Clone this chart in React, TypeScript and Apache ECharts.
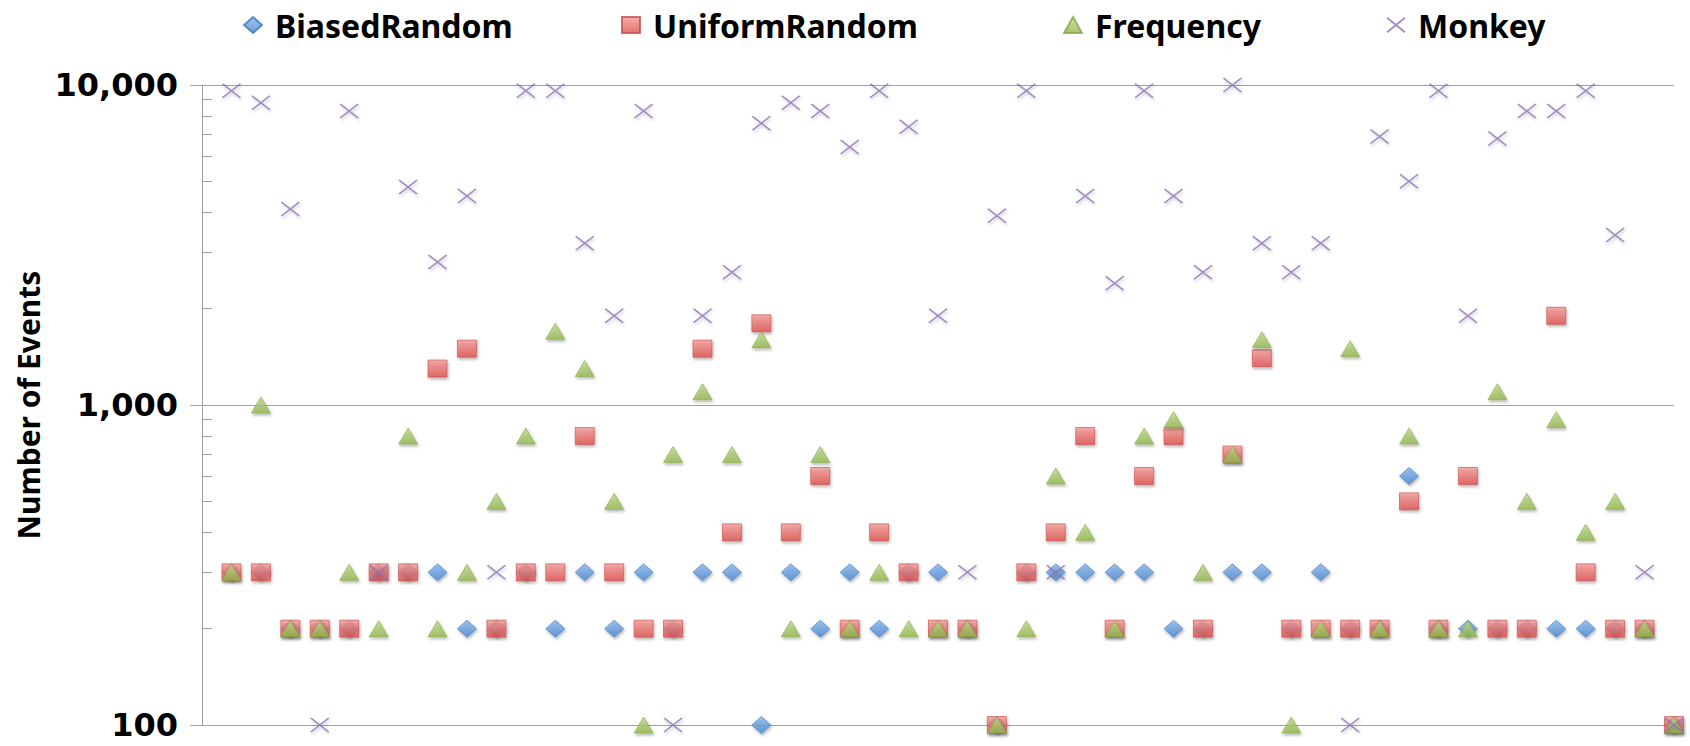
import React, { useEffect, useRef } from 'react';
import * as echarts from 'echarts';

// x positions of the 50 test subjects
const runs = [
  1, 2, 3, 4, 5, 6, 7, 8, 9, 10, 11, 12, 13, 14, 15, 16, 17, 18, 19, 20, 21, 22, 23, 24, 25,
  26, 27, 28, 29, 30, 31, 32, 33, 34, 35, 36, 37, 38, 39, 40, 41, 42, 43, 44, 45, 46, 47, 48, 49, 50,
];

const biasedRandom = [
  300, 300, 200, 200, 200, 300, 300, 300, 200, 200,
  300, 200, 300, 200, 300, 200, 300, 300, 100, 300,
  200, 300, 200, 300, 300, 200, 100, 300, 300, 300,
  300, 300, 200, 200, 300, 300, 200, 300, 200, 200,
  600, 200, 200, 200, 200, 200, 200, 200, 200, 100,
];

const uniformRandom = [
  300, 300, 200, 200, 200, 300, 300, 1300, 1500, 200,
  300, 300, 800, 300, 200, 200, 1500, 400, 1800, 400,
  600, 200, 400, 300, 200, 200, 100, 300, 400, 800,
  200, 600, 800, 200, 700, 1400, 200, 200, 200, 200,
  500, 200, 600, 200, 200, 1900, 300, 200, 200, 100,
];

const frequency = [
  300, 1000, 200, 200, 300, 200, 800, 200, 300, 500,
  800, 1700, 1300, 500, 100, 700, 1100, 700, 1600, 200,
  700, 200, 300, 200, 200, 200, 100, 200, 600, 400,
  200, 800, 900, 300, 700, 1600, 100, 200, 1500, 200,
  800, 200, 200, 1100, 500, 900, 400, 500, 200, 100,
];

const monkey = [
  9600, 8800, 4100, 100, 8300, 300, 4800, 2800, 4500, 300,
  9600, 9600, 3200, 1900, 8300, 100, 1900, 2600, 7600, 8800,
  8300, 6400, 9600, 7400, 1900, 300, 3900, 9600, 300, 4500,
  2400, 9600, 4500, 2600, 10000, 3200, 2600, 3200, 100, 6900,
  5000, 9600, 1900, 6800, 8300, 8300, 9600, 3400, 300, 100,
];

const seriesNames = ['BiasedRandom', 'UniformRandom', 'Frequency', 'Monkey'];
const yTickValues = [100, 1000, 10000];
const minorTickValues = [200, 300, 400, 500, 600, 700, 800, 900, 2000, 3000, 4000, 5000, 6000, 7000, 8000, 9000];

const pairs = (vals: number[]) => runs.map((r, i) => [r, vals[i]]);

const shadow = {
  shadowBlur: 3,
  shadowOffsetX: 1,
  shadowOffsetY: 2,
  shadowColor: 'rgba(0,0,0,0.35)',
};

const grad = (top: string, bottom: string) =>
  new echarts.graphic.LinearGradient(0, 0, 0, 1, [
    { offset: 0, color: top },
    { offset: 1, color: bottom },
  ]);

export default function App() {
  const ref = useRef<HTMLDivElement>(null);

  useEffect(() => {
    document.body.style.margin = '0';
    if (!ref.current) return;
    const chart = echarts.init(ref.current, undefined, { renderer: 'svg' });

    const legendText = {
      fontFamily: 'Noto Sans',
      fontWeight: 'bold' as const,
      fontSize: 32,
      color: '#000',
      padding: [0, 0, 0, 8],
    };
    const legendLefts = [238, 616, 1058, 1381];

    chart.setOption({
      animation: false,
      backgroundColor: '#fff',
      legend: seriesNames.map((n, i) => ({
        data: [n],
        left: legendLefts[i],
        top: 4,
        itemWidth: 18,
        itemHeight: 16,
        textStyle: legendText,
      })),
      grid: { left: 202, right: 16, top: 85, bottom: 21, containLabel: false },
      xAxis: {
        type: 'value',
        min: 0,
        max: 50,
        axisLine: { show: true, lineStyle: { color: '#a0a0a0', width: 1 } },
        axisTick: { show: false },
        axisLabel: { show: false },
        splitLine: { show: false },
      },
      yAxis: [
        {
          type: 'log',
          logBase: 10,
          min: 100,
          max: 10000,
          name: 'Number of Events',
          nameLocation: 'middle',
          nameGap: 156,
          nameTextStyle: {
            fontFamily: 'Noto Sans',
            fontWeight: 'bold',
            fontSize: 30,
            color: '#000',
          },
          axisLine: { show: true, lineStyle: { color: '#a0a0a0', width: 1 } },
          axisTick: { show: true, length: 12, lineStyle: { color: '#a0a0a0' } },
          axisLabel: {
            margin: 24,
            fontFamily: 'DejaVu Sans',
            fontWeight: 'bold',
            fontSize: 32,
            color: '#000',
            formatter: (v: number) => (yTickValues.includes(Math.round(v)) ? Math.round(v).toLocaleString('en-US') : ''),
          },
          splitLine: { show: true, lineStyle: { color: '#a0a0a0', width: 1 } },
        },
        {
          type: 'value',
          min: 2,
          max: 4,
          position: 'left',
          axisLine: { show: false },
          axisLabel: { show: false },
          splitLine: { show: false },
          axisTick: {
            show: true,
            inside: true,
            length: 10,
            customValues: minorTickValues.map((v) => Math.log10(v)),
            lineStyle: { color: '#a0a0a0' },
          },
        },
      ],
      series: [
        {
          name: 'BiasedRandom',
          type: 'scatter',
          data: pairs(biasedRandom),
          symbol: 'diamond',
          symbolSize: [19, 17],
          itemStyle: {
            color: grad('#86b6ec', '#4a88d2'),
            borderColor: '#3f78bd',
            borderWidth: 0.8,
            ...shadow,
          },
        },
        {
          name: 'UniformRandom',
          type: 'scatter',
          data: pairs(uniformRandom),
          symbol: 'rect',
          symbolSize: [19, 17],
          itemStyle: {
            color: grad('#f39a97', '#de4f4b'),
            borderColor: '#c4504d',
            borderWidth: 0.8,
            ...shadow,
          },
        },
        {
          name: 'Frequency',
          type: 'scatter',
          data: pairs(frequency),
          symbol: 'triangle',
          symbolSize: [19, 16],
          itemStyle: {
            color: grad('#bcd98a', '#93b74f'),
            borderColor: '#86a948',
            borderWidth: 0.8,
            ...shadow,
          },
        },
        {
          name: 'Monkey',
          type: 'scatter',
          data: pairs(monkey),
          symbol: 'path://M0,0L10,8M10,0L0,8',
          symbolSize: [18, 14],
          itemStyle: {
            color: '#8c72b8',
            borderColor: '#8c72b8',
            borderWidth: 1.6,
            shadowBlur: 3,
            shadowOffsetX: 1,
            shadowOffsetY: 2,
            shadowColor: 'rgba(0,0,0,0.25)',
          },
        },
      ],
    });

    return () => chart.dispose();
  }, []);

  return <div ref={ref} style={{ width: 1690, height: 746 }} />;
}
